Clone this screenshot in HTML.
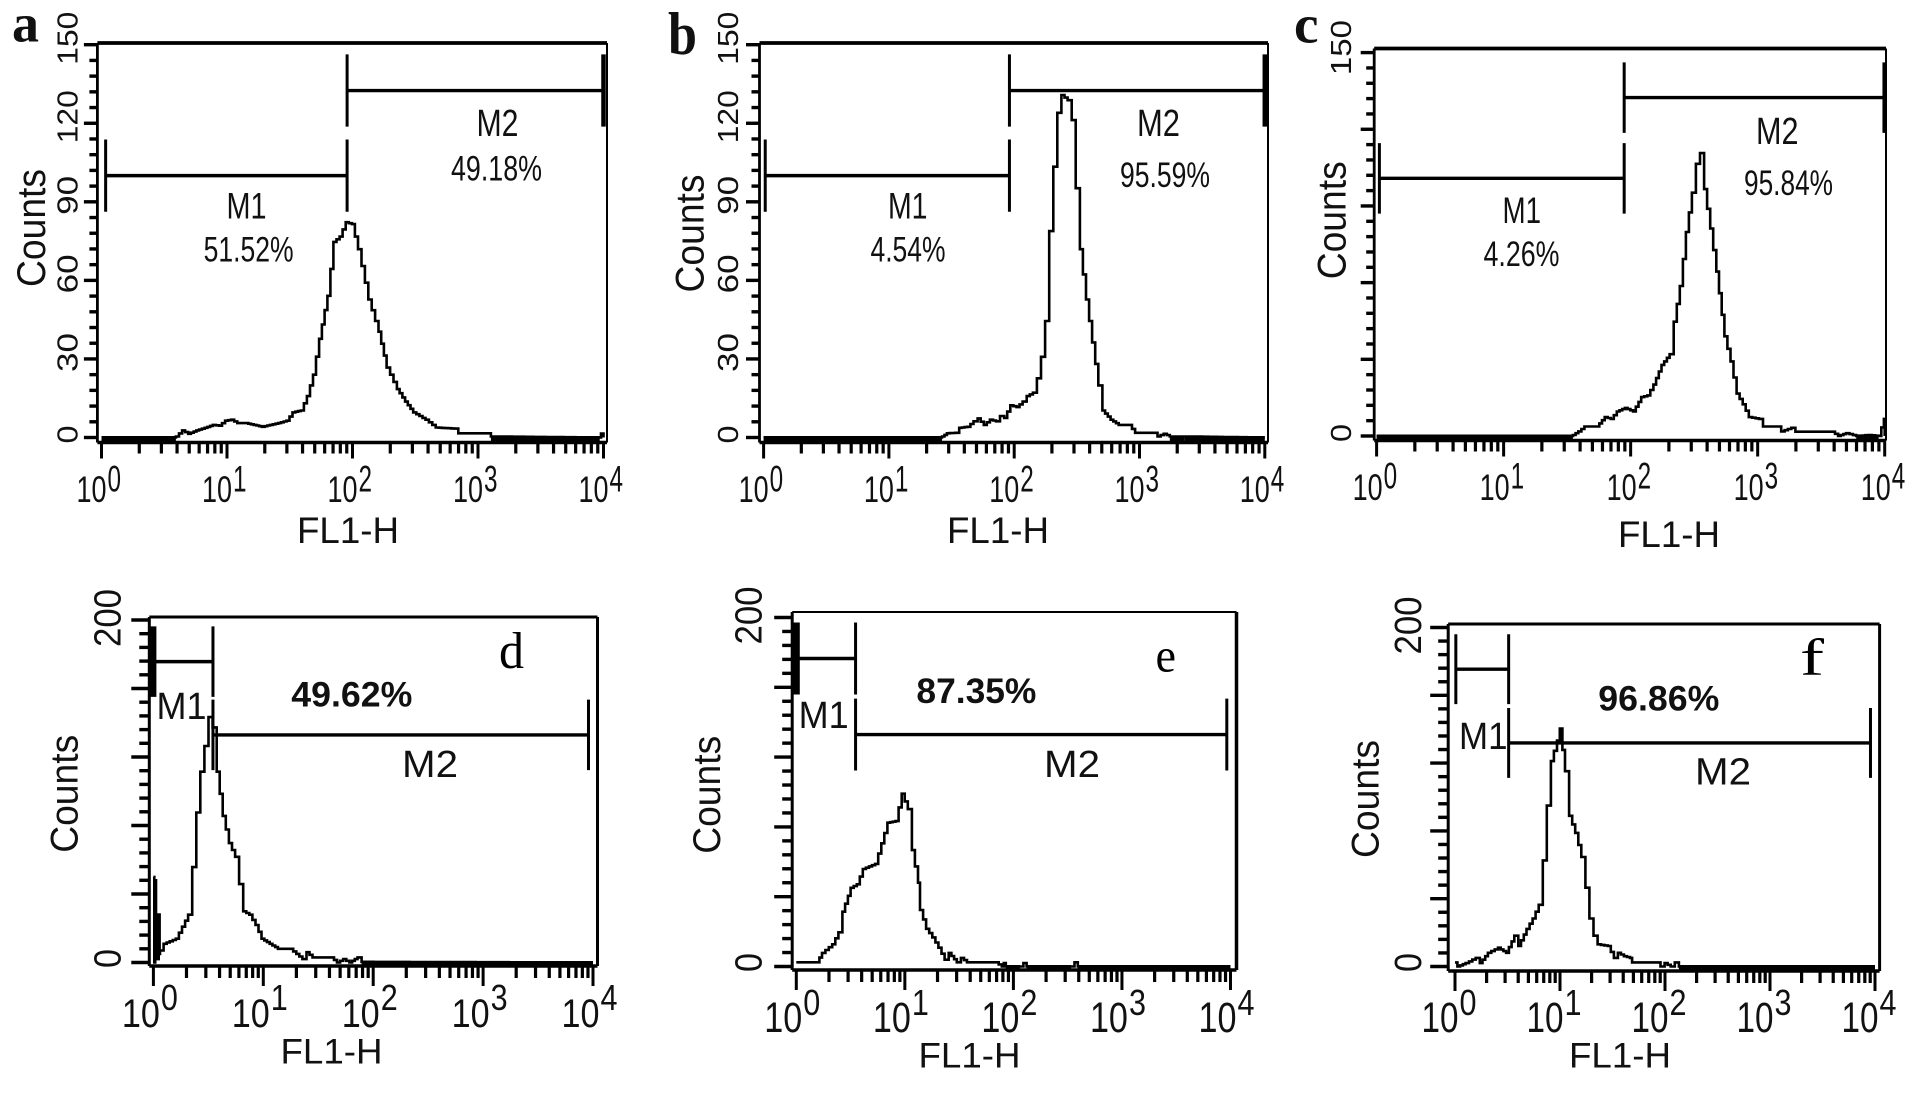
<!DOCTYPE html>
<html lang="en">
<head>
<meta charset="utf-8">
<title>Flow cytometry FL1-H histograms</title>
<style>
html,body{margin:0;padding:0;background:#fff;width:1913px;height:1094px;overflow:hidden}
svg{display:block}
text{font-family:"Liberation Sans",sans-serif;fill:#111}
.serif{font-family:"Liberation Serif",serif;fill:#000}
.bold{font-weight:700;fill:#111}
</style>
</head>
<body>
<svg id="figure" width="1913" height="1094" viewBox="0 0 1913 1094" xmlns="http://www.w3.org/2000/svg">
  <rect width="1913" height="1094" fill="#fff"/>

  <g id="panel-a">
    <text class="serif bold" x="12" y="41.3" font-size="54" textLength="27" lengthAdjust="spacingAndGlyphs">a</text>
    <text transform="translate(45,287) rotate(-90)" font-size="40" textLength="118" lengthAdjust="spacingAndGlyphs">Counts</text>
    <text x="297" y="543" font-size="37.5" textLength="102" lengthAdjust="spacingAndGlyphs">FL1-H</text>
    <text x="226.5" y="218.5" font-size="37.5" textLength="40" lengthAdjust="spacingAndGlyphs">M1</text>
    <text x="476.5" y="136" font-size="38" textLength="42" lengthAdjust="spacingAndGlyphs">M2</text>
    <text x="203.6" y="261.5" font-size="35" textLength="90" lengthAdjust="spacingAndGlyphs">51.52%</text>
    <text x="451" y="180.5" font-size="35" textLength="91" lengthAdjust="spacingAndGlyphs">49.18%</text>
  </g>

  <g id="panel-b">
    <text class="serif bold" x="668" y="53.8" font-size="60" textLength="29" lengthAdjust="spacingAndGlyphs">b</text>
    <text transform="translate(703.4,292.5) rotate(-90)" font-size="40" textLength="118" lengthAdjust="spacingAndGlyphs">Counts</text>
    <text x="947" y="543" font-size="37.5" textLength="102" lengthAdjust="spacingAndGlyphs">FL1-H</text>
    <text x="888" y="218.5" font-size="37.5" textLength="39.5" lengthAdjust="spacingAndGlyphs">M1</text>
    <text x="1137" y="136" font-size="38" textLength="43" lengthAdjust="spacingAndGlyphs">M2</text>
    <text x="870.5" y="261.5" font-size="35" textLength="75" lengthAdjust="spacingAndGlyphs">4.54%</text>
    <text x="1120" y="187" font-size="35" textLength="90" lengthAdjust="spacingAndGlyphs">95.59%</text>
  </g>

  <g id="panel-c">
    <text class="serif bold" x="1294" y="42.4" font-size="54" textLength="24.5" lengthAdjust="spacingAndGlyphs">c</text>
    <text transform="translate(1345.7,279.3) rotate(-90)" font-size="40" textLength="118" lengthAdjust="spacingAndGlyphs">Counts</text>
    <text x="1618" y="547" font-size="37.5" textLength="102" lengthAdjust="spacingAndGlyphs">FL1-H</text>
    <text x="1502.5" y="223" font-size="37.5" textLength="38.5" lengthAdjust="spacingAndGlyphs">M1</text>
    <text x="1756" y="144" font-size="38" textLength="42.5" lengthAdjust="spacingAndGlyphs">M2</text>
    <text x="1483.5" y="266" font-size="35" textLength="76" lengthAdjust="spacingAndGlyphs">4.26%</text>
    <text x="1744" y="195" font-size="35" textLength="89" lengthAdjust="spacingAndGlyphs">95.84%</text>
  </g>

  <g id="panel-d">
    <text class="serif" x="499" y="667.9" font-size="52" textLength="25" lengthAdjust="spacingAndGlyphs">d</text>
    <text transform="translate(77.7,852.8) rotate(-90)" font-size="39" textLength="118" lengthAdjust="spacingAndGlyphs">Counts</text>
    <text x="280.5" y="1063.5" font-size="35.6" textLength="102" lengthAdjust="spacingAndGlyphs">FL1-H</text>
    <text x="156.5" y="719.2" font-size="38" textLength="50" lengthAdjust="spacingAndGlyphs">M1</text>
    <text x="402" y="777" font-size="38" textLength="56" lengthAdjust="spacingAndGlyphs">M2</text>
    <text class="bold" x="291.3" y="706.6" font-size="35.6" textLength="121" lengthAdjust="spacingAndGlyphs">49.62%</text>
  </g>

  <g id="panel-e">
    <text class="serif" x="1155.5" y="671.3" font-size="48" textLength="20.5" lengthAdjust="spacingAndGlyphs">e</text>
    <text transform="translate(719.8,853.8) rotate(-90)" font-size="39" textLength="118" lengthAdjust="spacingAndGlyphs">Counts</text>
    <text x="918.5" y="1067.5" font-size="35.6" textLength="102" lengthAdjust="spacingAndGlyphs">FL1-H</text>
    <text x="798.6" y="727.8" font-size="38" textLength="50" lengthAdjust="spacingAndGlyphs">M1</text>
    <text x="1044" y="777" font-size="38" textLength="56" lengthAdjust="spacingAndGlyphs">M2</text>
    <text class="bold" x="916.4" y="703.2" font-size="35.6" textLength="120" lengthAdjust="spacingAndGlyphs">87.35%</text>
  </g>

  <g id="panel-f">
    <text class="serif" x="1800" y="674.7" font-size="52" font-weight="400" textLength="24" lengthAdjust="spacingAndGlyphs">f</text>
    <text transform="translate(1378.6,858) rotate(-90)" font-size="39" textLength="118" lengthAdjust="spacingAndGlyphs">Counts</text>
    <text x="1569" y="1067.5" font-size="35.6" textLength="102" lengthAdjust="spacingAndGlyphs">FL1-H</text>
    <text x="1459" y="749" font-size="38" textLength="48.5" lengthAdjust="spacingAndGlyphs">M1</text>
    <text x="1695" y="784.7" font-size="38" textLength="56" lengthAdjust="spacingAndGlyphs">M2</text>
    <text class="bold" x="1598.3" y="710.7" font-size="35.6" textLength="121" lengthAdjust="spacingAndGlyphs">96.86%</text>
  </g>
</svg>

<script>
// Histogram data: FL1-H position (log10 decades) and event counts.
const aFl = [0,0.59,0.593,0.642,0.691,0.756,0.822,0.887,0.936,0.985,1.033,1.082,1.148,1.213,1.278,1.343,1.408,1.474,1.522,1.588,1.637,1.685,1.734,1.8,1.848,1.897,1.946,1.995,2.044,2.126,2.207,2.272,2.354,2.419,2.484,2.582,2.663,2.81,2.843,3.071,3.103,3.97,3.98,4];
const aCounts = [0,0,0.4,2.7,1.4,2.7,3.7,4.8,4.5,6.4,6.8,5.5,5.5,4.8,4.1,4.8,5.5,6.4,9.6,10.3,15.8,24,37.7,54.1,74.7,76.7,82.2,81.5,71.9,52.7,40.4,26.7,18.5,13.7,9.6,6.8,3.8,3.4,1.6,1.6,0.4,0,1.5,0];

const bFl = [0,1.42,1.424,1.463,1.528,1.561,1.626,1.675,1.708,1.757,1.806,1.855,1.887,1.92,1.969,2.018,2.067,2.1,2.149,2.181,2.214,2.247,2.279,2.312,2.344,2.377,2.426,2.459,2.491,2.524,2.573,2.622,2.671,2.704,2.769,2.834,2.916,2.965,3.112,3.144,3.193,3.242,3.357,4];
const bCounts = [0,0,0.4,1.6,1.8,3.7,4.1,6.2,7.3,4.8,6.8,6.2,8.2,7.5,12.3,11.6,13.7,15.8,17.1,22.6,30.8,44.5,78.8,103.4,124,130.8,128.8,121.2,95.2,71.9,52.7,36.3,19.9,10.3,6.8,4.8,4.8,1.8,1.8,0.4,1.4,0.4,0.4,0];

const cFl = [0,1.54,1.546,1.588,1.636,1.732,1.796,1.843,1.891,1.955,2.019,2.083,2.131,2.179,2.243,2.307,2.339,2.387,2.435,2.482,2.514,2.546,2.578,2.626,2.674,2.738,2.786,2.834,2.882,2.93,3.01,3.042,3.153,3.185,3.265,3.297,3.585,3.633,3.696,3.776,3.872,3.952,3.994,4];
const cCounts = [0,0,0.4,1.8,3.7,3.7,7.4,6.7,9.6,11,9.6,15.2,15.9,20.1,27.8,32,44.7,58.7,79.8,95.2,106.5,110.7,96.6,81.2,64.3,39,29.2,16.6,12.4,7.4,6.7,3.7,3.7,1.8,3.2,1.7,1.7,0,1.1,0,0.4,0,6.7,0];

const dFl = [0,0.008,0.016,0.024,0.032,0.04,0.048,0.056,0.06,0.093,0.204,0.26,0.316,0.353,0.39,0.427,0.464,0.501,0.539,0.576,0.631,0.687,0.743,0.78,0.817,0.873,0.929,0.984,1.058,1.133,1.244,1.3,1.356,1.393,1.448,1.616,1.671,1.727,1.783,1.857,1.894,4];
const dCounts = [50,0,48,2,28,2,28,5,7,10.9,13.9,20.9,27.9,55.7,87.6,111.4,126.4,143.3,137.3,111.4,85.6,69.7,61.7,45.8,29.9,27.9,21.9,13.9,10.9,8,8,5,2,6,3,3,0,2,0,3,0.4,0];

const eFl = [0,0.188,0.237,0.331,0.388,0.425,0.5,0.557,0.613,0.726,0.783,0.839,0.914,0.971,1.027,1.065,1.121,1.14,1.196,1.253,1.309,1.366,1.404,1.479,1.516,1.573,1.836,1.893,1.912,1.93,2.062,2.092,2.122,2.532,2.563,2.593,4];
const eCounts = [2.4,2.4,7.8,12.7,19.6,31.4,45.1,47.1,55.9,58.8,70.6,82.4,83.3,99,90.2,66.7,48,32.4,21.6,16.7,10.8,3.9,7.8,2.4,4.9,2.4,2.4,0,2,0,0,2,0,0,2.4,0,0];

const fFl = [0,0.023,0.101,0.197,0.236,0.313,0.41,0.487,0.565,0.603,0.681,0.739,0.797,0.836,0.874,0.913,0.971,0.998,1.048,1.087,1.145,1.203,1.242,1.28,1.319,1.358,1.455,1.513,1.551,1.609,1.667,1.687,1.919,1.957,1.996,2.054,2.093,2.132,4];
const fCounts = [2.4,0,2,5.1,2,8.1,11.1,8.1,18.2,12.1,22.2,28.3,36.4,62.6,94.9,121.2,133.3,140.4,115.2,88.9,78.8,64.6,46.5,28.3,18.2,13.1,12.1,5.1,8.1,6.1,5.1,2.4,2.4,0,2,0,2.4,0,0];

// Marker gates: [start decade, end decade, count level]
const aM1 = [0.033,1.957,100];
const aM2 = [1.957,4,132.5];
const bM1 = [0.013,1.962,100];
const bM2 = [1.962,4,132.5];
const cM1 = [0.022,1.949,100.8];
const cM2 = [1.949,4,132.4];
const dM1 = [0,0.542,175.7];
const dM2 = [0.542,3.959,132.9];
const eM1 = [0,0.546,176.5];
const eM2 = [0.546,3.966,132.9];
const fM1 = [0.008,0.511,175.4];
const fM2 = [0.511,3.957,131.9];

// Tick labels
const xDecades = [0,1,2,3,4];
const xBase = '10';
const topYTicks = [0,30,60,90,120,150];
const topYLabels = ['0','30','60','90','120','150'];
const cYTicks = [0,150];
const cYLabels = ['0','150'];
const bottomYTicks = [0,200];
const bottomYLabels = ['0','200'];

const NS = 'http://www.w3.org/2000/svg';

function make(parent, tag, attrs, name) {
  const el = document.createElementNS(NS, tag);
  for (const k in attrs) el.setAttribute(k, attrs[k]);
  
  
  parent.appendChild(el);
  return el;
}

function drawPanel(p) {
  const g = document.getElementById('panel-' + p.id);
  const sx = v => p.x0 + (v / 4) * (p.x4 - p.x0);
  const sy = v => p.y0 - (v / p.max) * (p.y0 - p.yTop);

  // frame
  make(g, 'line', {x1:p.L, y1:p.T, x2:p.R, y2:p.T, stroke:'#000', 'stroke-width':p.wT}, 'frame-top-' + p.id);
  make(g, 'line', {x1:p.L, y1:p.T, x2:p.L, y2:p.B, stroke:'#000', 'stroke-width':p.wL}, 'frame-left-' + p.id);
  make(g, 'line', {x1:p.R, y1:p.T, x2:p.R, y2:p.B, stroke:'#000', 'stroke-width':p.wR}, 'frame-right-' + p.id);
  make(g, 'line', {x1:p.L, y1:p.B, x2:p.R, y2:p.B, stroke:'#000', 'stroke-width':3.5}, 'frame-bottom-' + p.id);

  // y ticks: major every majorStep counts, minor every minorStep counts
  const nTicks = Math.round(p.max / p.minorStep);
  for (let i = 0; i <= nTicks; i++) {
    const c = i * p.minorStep;
    const major = Math.abs(c % p.majorStep) < 1e-9;
    const len = major ? p.yMajor : p.yMinor;
    make(g, 'line', {x1:p.L - len, x2:p.L, y1:sy(c), y2:sy(c), stroke:'#000', 'stroke-width':3.4}, major ? 'y-major-tick' : 'y-minor-tick');
  }

  // x ticks: log decades with minor 2..9
  xDecades.forEach(d => {
    make(g, 'line', {x1:sx(d), x2:sx(d), y1:p.B, y2:p.B + p.xMajor, stroke:'#000', 'stroke-width':3}, 'x-major-tick');
    if (d < 4) {
      for (let m = 2; m <= 9; m++) {
        const v = d + Math.log10(m);
        make(g, 'line', {x1:sx(v), x2:sx(v), y1:p.B, y2:p.B + p.xMinor, stroke:'#000', 'stroke-width':3.2}, 'x-minor-tick');
      }
    }
  });

  // x tick labels
  xDecades.forEach(d => {
    const tx = sx(d) + p.tenDx;
    const ten = make(g, 'text', {x:tx, y:p.tenY, 'font-size':p.tenSize, textLength:p.tenW, lengthAdjust:'spacingAndGlyphs'}, 'x-tick-label');
    ten.textContent = xBase;
    const ex = make(g, 'text', {x:tx + p.tenW + 1, y:p.expY, 'font-size':p.expSize, textLength:p.expW, lengthAdjust:'spacingAndGlyphs'}, 'x-tick-exponent');
    ex.textContent = String(d);
  });

  // y tick labels
  p.yTicks.forEach((c, i) => {
    const s = p.yLabels[i];
    const len = s.length === 3 ? p.yLen3 : s.length === 2 ? p.yLen2 : p.yLen1;
    const shift = c === 0 ? p.yShift0 : p.yShift;
    const t = make(g, 'text', {transform:'translate(' + p.yLabelX + ',' + (sy(c) + shift + len / 2) + ') rotate(-90)', 'font-size':p.ySize, textLength:len, lengthAdjust:'spacingAndGlyphs'}, 'y-tick-label');
    t.textContent = s;
  });

  // gates
  [[p.m1, 'm1', p.m1LeftW], [p.m2, 'm2', p.gateW]].forEach(([gate, nm, leftW]) => {
    const xa = sx(gate[0]), xb = sx(gate[1]), yy = sy(gate[2]);
    const top = sy(gate[2] + p.gateHalf), bot = sy(gate[2] - p.gateHalf);
    make(g, 'line', {x1:xa, x2:xb, y1:yy, y2:yy, stroke:'#000', 'stroke-width':3.4}, 'gate-bar-' + nm);
    make(g, 'line', {x1:xa, x2:xa, y1:top, y2:bot, stroke:'#000', 'stroke-width':leftW}, 'gate-start-' + nm);
    make(g, 'line', {x1:xb, x2:xb, y1:top, y2:bot, stroke:'#000', 'stroke-width':nm === 'm2' ? p.m2EndW : p.gateW}, 'gate-end-' + nm);
  });

  // solid band wherever the histogram sits on the zero-count row
  p.fl.forEach((v, i) => {
    if (i + 1 < p.fl.length && p.counts[i] <= 0.5 && p.counts[i + 1] <= 0.5) {
      make(g, 'rect', {x:sx(v), y:sy(0) - 1.5, width:sx(p.fl[i + 1]) - sx(v), height:p.B - sy(0) + 1.5, fill:'#000'}, 'zero-count-band');
    }
  });

  // histogram series, rendered as a staircase of instrument channels
  const CHANNEL_PX = 3;
  let d = 'M' + sx(p.fl[0]).toFixed(1) + ' ' + sy(p.counts[0]).toFixed(1);
  for (let i = 1; i < p.fl.length; i++) {
    const xa = sx(p.fl[i - 1]), xb = sx(p.fl[i]);
    const ya = sy(p.counts[i - 1]), yb = sy(p.counts[i]);
    const n = Math.max(1, Math.round((xb - xa) / CHANNEL_PX));
    for (let k = 1; k <= n; k++) {
      const xk = xa + (xb - xa) * k / n;
      const yk = ya + (yb - ya) * k / n;
      d += 'H' + xk.toFixed(1) + 'V' + yk.toFixed(1);
    }
  }
  make(g, 'path', {d:d, fill:'none', stroke:'#000', 'stroke-width':2.6, 'stroke-linejoin':'miter'}, 'histogram-line-' + p.id);
}

const topCommon = {max:150, minorStep:6, majorStep:30, yMajor:13.5, yMinor:8, xMajor:16, xMinor:11, tenSize:37, expSize:37, tenW:30, expW:13.5, ySize:29, yLen3:53, yLen2:39, yLen1:18, yShift:-6.5, yShift0:-3, gateHalf:13.8, gateW:3, m1LeftW:3, m2EndW:4.5, wT:3.8, wL:2.8, wR:2};
const bottomCommon = {max:200, minorStep:8, majorStep:40, yMajor:18, yMinor:10, xMajor:20, xMinor:12, expW:17, expSize:36, ySize:38, yLen3:58, yLen2:40, yLen1:19, yShift:-2, yShift0:-4, gateHalf:20.6, gateW:3, m2EndW:3};

const panelList = [
  Object.assign({}, topCommon, {id:'a', fl:aFl, counts:aCounts, m1:aM1, m2:aM2, x0:101.5, x4:603.5, y0:437.5, yTop:44.7, L:97.4, R:607, T:43, B:442.5, tenDx:-25, tenY:502, expY:491.5, yLabelX:77.7, yTicks:topYTicks, yLabels:topYLabels}),
  Object.assign({}, topCommon, {id:'b', fl:bFl, counts:bCounts, m1:bM1, m2:bM2, x0:763.6, x4:1264.8, y0:437.5, yTop:44.7, L:759.5, R:1268, T:43, B:442.5, tenDx:-25, tenY:502, expY:491.5, yLabelX:738.2, yTicks:topYTicks, yLabels:topYLabels}),
  Object.assign({}, topCommon, {id:'c', fl:cFl, counts:cCounts, m1:cM1, m2:cM2, x0:1376.6, x4:1884.7, y0:436, yTop:52.6, L:1374.2, R:1886, T:48.5, B:440.5, tenDx:-24, tenY:500, expY:488.5, yLabelX:1351, yTicks:cYTicks, yLabels:cYLabels, yLen3:55, yShift:-5}),
  Object.assign({}, bottomCommon, {id:'d', fl:dFl, counts:dCounts, m1:dM1, m2:dM2, x0:153.4, x4:593, y0:962.5, yTop:620, L:149.3, R:597.5, T:617, B:966, tenDx:-31.5, tenW:38, tenSize:40, tenY:1027, expY:1010, yLabelX:120.7, yTicks:bottomYTicks, yLabels:bottomYLabels, m1LeftW:6, wT:3, wL:3, wR:3}),
  Object.assign({}, bottomCommon, {id:'e', fl:eFl, counts:eCounts, m1:eM1, m2:eM2, x0:796.3, x4:1230.5, y0:966.5, yTop:617.5, L:792.2, R:1236.5, T:612, B:970, tenDx:-32, tenW:38, tenSize:43, tenY:1032, expY:1015, yLabelX:761.5, yTicks:bottomYTicks, yLabels:bottomYLabels, m1LeftW:7, wT:2, wL:3, wR:3.5}),
  Object.assign({}, bottomCommon, {id:'f', fl:fFl, counts:fCounts, m1:fM1, m2:fM2, x0:1455, x4:1875, y0:966.5, yTop:627.5, L:1448.2, R:1879.6, T:624, B:971, tenDx:-33.5, tenW:37, tenSize:43, tenY:1032, expY:1015, yLabelX:1420.8, yTicks:bottomYTicks, yLabels:bottomYLabels, m1LeftW:3, wT:3, wL:3, wR:3})
];

panelList.forEach(drawPanel);
</script>
</body>
</html>
